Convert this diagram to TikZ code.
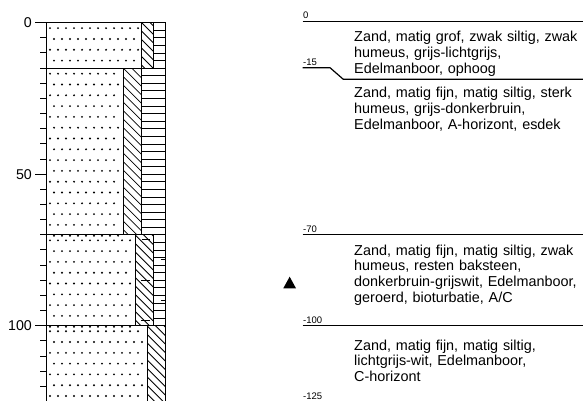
\documentclass[tikz,border=0pt]{standalone}
\usepackage{fontspec}
\setmainfont{Liberation Sans}
\newcommand\sanddots[3]{%
  \pgfmathtruncatemacro\nrows{(#3-#2-4)/10.8}%
  \foreach \r in {0,...,\nrows}{%
    \pgfmathsetmacro\yy{#2+5.5+10.8*\r}%
    \pgfmathsetmacro\xo{50+4*mod(\r,2)}%
    \pgfmathtruncatemacro\ncols{(#1-\xo-2.5)/8}%
    \foreach \c in {0,...,\ncols}{%
      \fill (\xo+8*\c,\yy) circle (1.05);
    }%
  }%
}
\newcommand\hatchbox[4]{%
  \begin{scope}
  \clip (#1,#2) rectangle (#3,#4);
  \foreach \k in {-22,...,3}{\draw[hatchline] (#1+8.5*\k,#2) -- ++(200,200);}
  \end{scope}%
}
\newcommand\hlines[4]{% x1, x2, d1, d2 (depth range)
  \foreach \d in {#3,...,#4}{\draw[hatchline] (#1,22.7+3.03*\d) -- (#2,22.7+3.03*\d);}%
}
\begin{document}
\begin{tikzpicture}[x=1pt,y=-1pt,
  frame/.style={line width=1pt},
  bound/.style={line width=1.2pt},
  hatchline/.style={line width=0.8pt},
  brick/.style={line width=1.8pt},
  tickline/.style={line width=1pt},
  desc/.style={anchor=base west, inner sep=0pt, text width=240pt, align=left, font=\fontsize{14.4}{15.8}\selectfont},
  depthlab/.style={anchor=base west, inner sep=0pt, font=\fontsize{9.5}{10}\selectfont},
  scalelab/.style={anchor=east, inner sep=0pt, font=\fontsize{14.2}{16}\selectfont}]
\useasboundingbox (0,0) rectangle (583,401);

% sand dots
\sanddots{141.7}{22.7}{68.2}
\sanddots{123.3}{68.2}{234.8}
\sanddots{135}{234.8}{325.7}
\sanddots{147}{325.7}{401.5}

% diagonal hatching
\hatchbox{141.7}{22.7}{153.3}{68.2}
\hatchbox{123.3}{68.2}{141.7}{234.8}
\hatchbox{135}{234.8}{153.3}{325.7}
\hatchbox{147}{325.7}{165.7}{401.5}

% horizontal lines
\hlines{153.3}{165.7}{2.5,5}{12.5}
\hlines{141.7}{165.7}{17.5,20}{67.5}
\hlines{153.3}{165.7}{72.5,75}{97.5}

% brick dashes
\draw[brick] (141.7,239.5) -- (150,239.5);
\draw[brick] (141.2,280.5) -- (150.3,280.5);
\draw[brick] (141.2,320.5) -- (150.3,320.5);
\draw[brick] (160.5,259.5) -- (165.7,259.5);
\draw[brick] (160.8,300.5) -- (165.7,300.5);

% column dividers
\draw[frame] (141.7,22.7) -- (141.7,68.2);
\draw[frame] (153.3,22.7) -- (153.3,68.2);
\draw[frame] (123.3,68.2) -- (123.3,234.8);
\draw[frame] (141.7,68.2) -- (141.7,234.8);
\draw[frame] (135,234.8) -- (135,325.7);
\draw[frame] (153.3,234.8) -- (153.3,325.7);
\draw[frame] (147,325.7) -- (147,401.5);

% frame
\draw[frame] (46,22.7) -- (46,401.5);
\draw[frame] (165.7,22.7) -- (165.7,401.5);
\draw[bound] (46,22.7) -- (165.7,22.7);
\draw[bound] (46,68.2) -- (165.7,68.2);
\draw[bound] (46,234.8) -- (165.7,234.8);
\draw[bound] (46,325.7) -- (165.7,325.7);

% ticks
\foreach \d in {5,10,...,125}{\draw[tickline] (40,22.7+3.03*\d) -- (46,22.7+3.03*\d);}
\foreach \d in {0,50,100}{\draw[tickline] (35,22.7+3.03*\d) -- (46,22.7+3.03*\d);}
\node[scalelab] (s0) at (32,22.7) {0};
\node[scalelab] (s50) at (32,174.2) {50};
\node[scalelab] (s100) at (32,325.7) {100};

% right side boundaries
\coordinate (a0) at (302.7,21.7);  \coordinate (b0) at (583,21.7);
\coordinate (a15) at (302.7,67.7); \coordinate (k15) at (330,67.7);
\coordinate (m15) at (343.3,79.3); \coordinate (b15) at (583,79.3);
\coordinate (a70) at (302.7,234.3); \coordinate (b70) at (583,234.3);
\coordinate (a100) at (302.7,325.6); \coordinate (b100) at (583,325.6);
\draw[bound] (a0) -- (b0);
\draw[bound] (a15) -- (k15) -- (m15) -- (b15);
\draw[bound] (a70) -- (b70);
\draw[bound] (a100) -- (b100);

\node[depthlab] (l0) at (303,18.3) {0};
\node[depthlab] (l15) at (303,65.2) {-15};
\node[depthlab] (l70) at (303,232) {-70};
\node[depthlab] (l100) at (303,323.2) {-100};
\node[depthlab] (l125) at (303,399.5) {-125};

\node[desc] (d1) at (354,41.7) {Zand, matig grof, zwak siltig, zwak\\humeus, grijs-lichtgrijs,\\Edelmanboor, ophoog};
\node[desc] (d2) at (354,97.8) {Zand, matig fijn, matig siltig, sterk\\humeus, grijs-donkerbruin,\\Edelmanboor, A-horizont, esdek};
\node[desc] (d3) at (354,255) {Zand, matig fijn, matig siltig, zwak\\humeus, resten baksteen,\\donkerbruin-grijswit, Edelmanboor,\\geroerd, bioturbatie, A/C};
\node[desc] (d4) at (354,350) {Zand, matig fijn, matig siltig,\\lichtgrijs-wit, Edelmanboor,\\C-horizont};

% water level marker
\fill (283.3,288.3) -- (296,288.3) -- (289.65,276.7) -- cycle;
\end{tikzpicture}
\end{document}
